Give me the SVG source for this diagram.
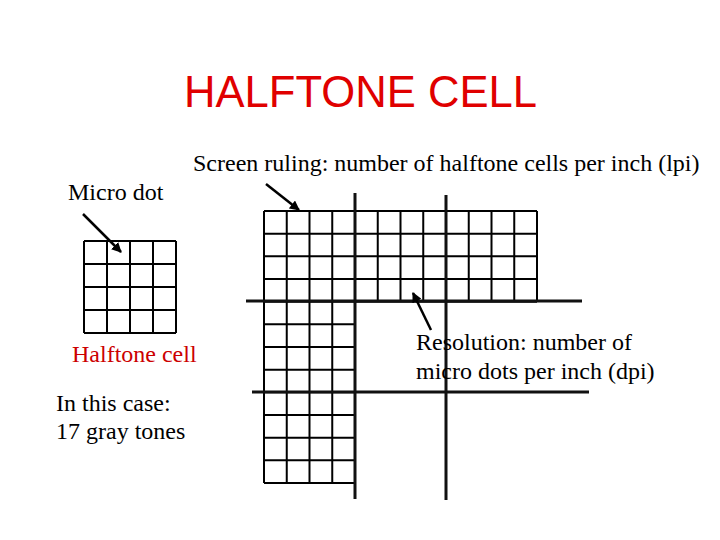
<svg xmlns="http://www.w3.org/2000/svg" width="720" height="540" viewBox="0 0 720 540">
<defs>
<style>
.t{font-family:"Liberation Serif","Times New Roman",serif;font-size:24px;fill:#000}
.red{fill:#cc0000}
.title{font-family:"Liberation Sans",Arial,sans-serif;font-size:43.5px;fill:#e00000}
.grid{fill:none;stroke:#000;stroke-width:2}
.main{fill:none;stroke:#111;stroke-width:3}
.arrow{fill:none;stroke:#000;stroke-width:2.5;marker-end:url(#ah)}
</style>
<marker id="ah" viewBox="0 0 10 10" refX="9" refY="5" markerWidth="4" markerHeight="4" orient="auto" markerUnits="strokeWidth">
<path d="M0,0 L10,5 L0,10 z" fill="#000"/>
</marker>
</defs>
<rect width="720" height="540" fill="#fff"/>
<g id="title"><text class="title" x="184" y="107" textLength="353" lengthAdjust="spacingAndGlyphs">HALFTONE CELL</text></g>
<g id="screen-ruling-label"><text class="t" x="193" y="171">Screen ruling: number of halftone cells per inch (lpi)</text></g>
<g id="micro-dot-label"><text class="t" x="68" y="200">Micro dot</text></g>
<g id="halftone-cell">
<path class="grid" d="M84,241H176M84,264H176M84,287H176M84,310H176M84,333H176M84,241V333M107,241V333M130,241V333M153,241V333M176,241V333"/>
</g>
<g id="halftone-cell-label"><text class="t red" x="72" y="362">Halftone cell</text></g>
<g id="case-label"><text class="t" x="56" y="411">In this case:</text><text class="t" x="56" y="439">17 gray tones</text></g>
<g id="screen-grid">
<path class="grid" d="M264,211H537M264,233.7H537M264,256.3H537M264,279H537M264,301.7H537
M264,211V301.7M286.75,211V301.7M309.5,211V301.7M332.25,211V301.7M377.75,211V301.7M400.5,211V301.7M423.25,211V301.7M468.75,211V301.7M491.5,211V301.7M514.25,211V301.7M537,211V301.7
M264,324.3H355M264,347H355M264,369.7H355M264,392.3H355M264,415H355M264,437.7H355M264,460.3H355M264,483H355
M264,301.7V483M286.75,301.7V483M309.5,301.7V483M332.25,301.7V483"/>
<path class="main" d="M355,193V499M446,195V500M246,301H582M252,392H589"/>
</g>
<g id="resolution-label"><text class="t" x="416" y="350">Resolution: number of</text><text class="t" x="416" y="379">micro dots per inch (dpi)</text></g>
<g id="connectors">
<path class="arrow" d="M83,214L121,252"/>
<path class="arrow" d="M266,184L299,210"/>
<path class="arrow" d="M431,330L413,293"/>
</g>
</svg>
